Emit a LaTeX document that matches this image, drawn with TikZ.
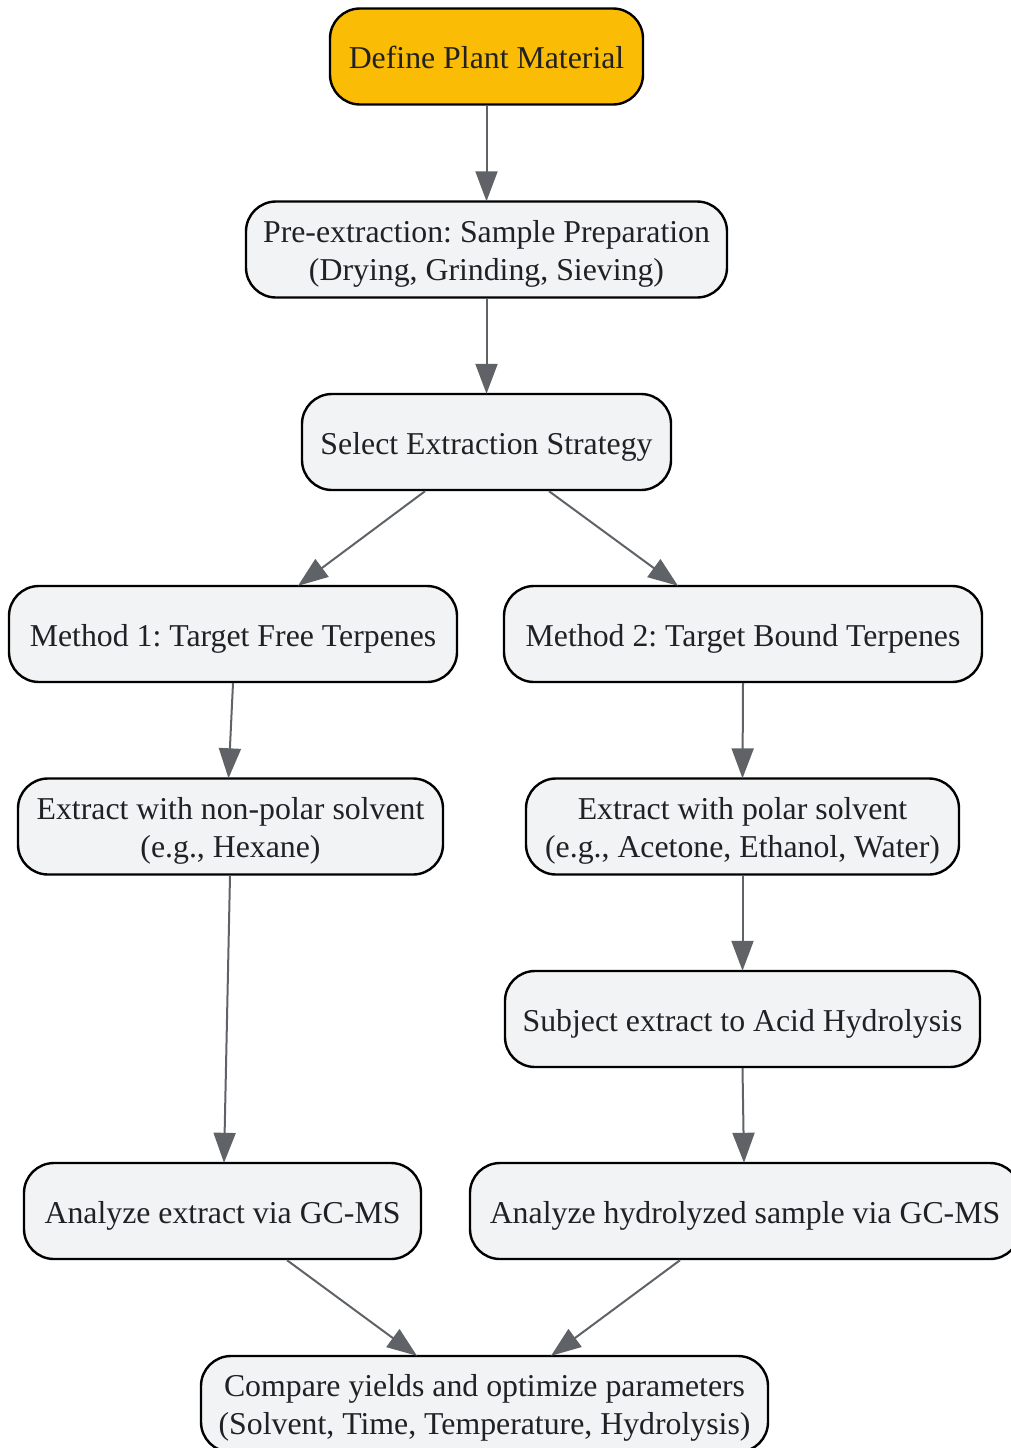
\documentclass[tikz,border=0pt]{standalone}
\usepackage{fontspec}
\setmainfont{Liberation Serif}
\usetikzlibrary{arrows.meta}
\frenchspacing
\definecolor{boxfill}{HTML}{F1F3F4}
\definecolor{startfill}{HTML}{FBBC05}
\definecolor{edgegray}{HTML}{5F6368}
\definecolor{txt}{HTML}{202124}
\newcommand{\twolines}[2]{\begin{tabular}[t]{@{}c@{}}#1\\#2\end{tabular}}
\tikzset{
  box/.style={draw=black, line width=2.4pt, rounded corners=30pt, fill=boxfill,
    inner sep=0pt, minimum height=96pt, text=txt,
    font=\fontsize{31.8}{38}\selectfont\frenchspacing,
    text height=24pt, text depth=0pt},
  twobox/.style={box, text height=0pt, text depth=15pt},
  startbox/.style={box, fill=startfill},
  conn/.style={draw=edgegray, line width=2pt, -{Triangle[length=30pt,width=22pt]}},
}
\begin{document}
\begin{tikzpicture}[x=1pt,y=-1pt]
\useasboundingbox (0,0) rectangle (1011,1448);
\clip (0,0) rectangle (1011,1448);
\node[startbox, minimum width=313pt] (def) at (486.5,56.5) {Define Plant Material};
\node[twobox, minimum width=481pt] (pre) at (486.5,249.5) {\twolines{Pre-extraction: Sample Preparation}{(Drying, Grinding, Sieving)}};
\node[box, minimum width=369pt] (sel) at (486.5,442) {Select Extraction Strategy};
\node[box, minimum width=448pt] (m1) at (233,634) {Method 1: Target Free Terpenes};
\node[box, minimum width=478pt] (m2) at (743,634) {Method 2: Target Bound Terpenes};
\node[twobox, minimum width=425pt] (np) at (230.5,826.5) {\twolines{Extract with non-polar solvent}{(e.g., Hexane)}};
\node[twobox, minimum width=433pt] (pol) at (742.5,826.5) {\twolines{Extract with polar solvent}{(e.g., Acetone, Ethanol, Water)}};
\node[box, minimum width=475pt] (hyd) at (742.5,1019) {Subject extract to Acid Hydrolysis};
\node[box, minimum width=397pt] (ae) at (222.5,1211) {Analyze extract via GC-MS};
\node[box, minimum width=550pt] (ah) at (745,1211) {Analyze hydrolyzed sample via GC-MS};
\node[twobox, minimum width=567pt] (cmp) at (484.5,1404) {\twolines{Compare yields and optimize parameters}{(Solvent, Time, Temperature, Hydrolysis)}};

\draw[conn] (def.south) -- ([yshift=-1pt]pre.north);
\draw[conn] (pre.south) -- ([yshift=-1pt]sel.north);
\draw[conn] ([xshift=-61.5pt]sel.south) -- ([xshift=65pt,yshift=-1pt]m1.north);
\draw[conn] ([xshift=62.5pt]sel.south) -- ([xshift=-65pt,yshift=-1pt]m2.north);
\draw[conn] (m1.south) -- ([xshift=-2pt,yshift=-1pt]np.north);
\draw[conn] (m2.south) -- ([yshift=-1pt]pol.north);
\draw[conn] ([xshift=-0.5pt]np.south) -- ([xshift=1.5pt,yshift=-1pt]ae.north);
\draw[conn] (pol.south) -- ([yshift=-1pt]hyd.north);
\draw[conn] (hyd.south) -- ([xshift=-1pt,yshift=-1pt]ah.north);
\draw[conn] ([xshift=64.5pt]ae.south) -- ([xshift=-67.5pt,yshift=-1pt]cmp.north);
\draw[conn] ([xshift=-65pt]ah.south) -- ([xshift=66.5pt,yshift=-1pt]cmp.north);
\end{tikzpicture}
\end{document}
